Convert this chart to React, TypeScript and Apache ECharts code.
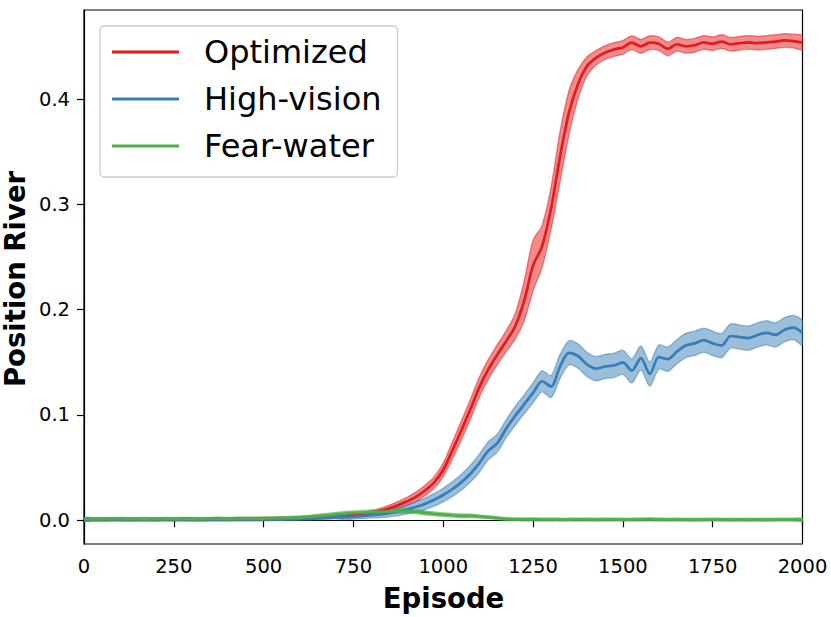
import React, { useEffect, useRef } from "react";
import * as echarts from "echarts";

const STEP = 25;
const episodes: number[] = Array.from({ length: 81 }, (_, i) => i * STEP);

const xTicks = [0, 250, 500, 750, 1000, 1250, 1500, 1750, 2000];
const yTicks = [0, 0.1, 0.2, 0.3, 0.4];

const seriesNames = ["Optimized", "High-vision", "Fear-water"];
const seriesColors = ["#e41a1c", "#377eb8", "#4daf4a"];
const bandColors = ["rgba(228,26,28,0.5)", "rgba(55,126,184,0.5)", "rgba(77,175,74,0.5)"];

const optimizedMean = [
  0.0008, 0.0010, 0.0007, 0.0009, 0.0011, 0.0008, 0.0009, 0.0010, 0.0008, 0.0010,
  0.0009, 0.0011, 0.0010, 0.0009, 0.0011, 0.0012, 0.0010, 0.0012, 0.0013, 0.0012,
  0.0014, 0.0015, 0.0017, 0.0018, 0.0020, 0.0022, 0.0025, 0.0030, 0.0035, 0.0040,
  0.0048, 0.0058, 0.0072, 0.0090, 0.0115, 0.0145, 0.0180, 0.0225, 0.0285, 0.0360,
  0.0480, 0.0660, 0.0850, 0.1050, 0.1260, 0.1430, 0.1570, 0.1700, 0.1840, 0.2080,
  0.2420, 0.2600, 0.2960, 0.3450, 0.3870, 0.4140, 0.4310, 0.4390, 0.4440, 0.4470,
  0.4490, 0.4535, 0.4500, 0.4535, 0.4525, 0.4475, 0.4520, 0.4500, 0.4510, 0.4537,
  0.4525, 0.4545, 0.4520, 0.4530, 0.4537, 0.4530, 0.4537, 0.4545, 0.4556, 0.4550,
  0.4537,
];
const optimizedSpread = [
  0.0015, 0.0015, 0.0015, 0.0015, 0.0015, 0.0015, 0.0015, 0.0015, 0.0015, 0.0015,
  0.0015, 0.0015, 0.0015, 0.0015, 0.0015, 0.0015, 0.0015, 0.0015, 0.0015, 0.0015,
  0.0015, 0.0015, 0.0015, 0.0015, 0.0015, 0.0015, 0.0015, 0.0015, 0.0015, 0.0020,
  0.0020, 0.0020, 0.0020, 0.0025, 0.0030, 0.0035, 0.0040, 0.0045, 0.0050, 0.0055,
  0.0065, 0.0080, 0.0090, 0.0095, 0.0095, 0.0095, 0.0095, 0.0100, 0.0120, 0.0190,
  0.0240, 0.0200, 0.0200, 0.0240, 0.0210, 0.0140, 0.0090, 0.0070, 0.0065, 0.0065,
  0.0065, 0.0065, 0.0065, 0.0065, 0.0065, 0.0065, 0.0065, 0.0065, 0.0065, 0.0065,
  0.0065, 0.0065, 0.0065, 0.0065, 0.0065, 0.0065, 0.0065, 0.0065, 0.0065, 0.0065,
  0.0065,
];

const highVisionMean = [
  0.0008, 0.0007, 0.0009, 0.0008, 0.0007, 0.0009, 0.0008, 0.0008, 0.0007, 0.0009,
  0.0008, 0.0009, 0.0008, 0.0007, 0.0009, 0.0008, 0.0009, 0.0010, 0.0009, 0.0010,
  0.0010, 0.0011, 0.0012, 0.0013, 0.0015, 0.0017, 0.0020, 0.0024, 0.0028, 0.0032,
  0.0036, 0.0042, 0.0048, 0.0055, 0.0068, 0.0085, 0.0105, 0.0128, 0.0158, 0.0195,
  0.0240, 0.0295, 0.0360, 0.0440, 0.0540, 0.0660, 0.0730, 0.0870, 0.0990, 0.1100,
  0.1210, 0.1320, 0.1270, 0.1460, 0.1590, 0.1560, 0.1480, 0.1440, 0.1460, 0.1470,
  0.1500, 0.1420, 0.1540, 0.1390, 0.1550, 0.1530, 0.1600, 0.1660, 0.1680, 0.1710,
  0.1680, 0.1660, 0.1750, 0.1740, 0.1730, 0.1760, 0.1780, 0.1760, 0.1810, 0.1830,
  0.1780,
];
const highVisionSpread = [
  0.0015, 0.0015, 0.0015, 0.0015, 0.0015, 0.0015, 0.0015, 0.0015, 0.0015, 0.0015,
  0.0015, 0.0015, 0.0015, 0.0015, 0.0015, 0.0015, 0.0015, 0.0015, 0.0015, 0.0015,
  0.0015, 0.0015, 0.0015, 0.0015, 0.0015, 0.0015, 0.0015, 0.0015, 0.0015, 0.0025,
  0.0025, 0.0025, 0.0025, 0.0030, 0.0035, 0.0040, 0.0045, 0.0050, 0.0055, 0.0060,
  0.0065, 0.0070, 0.0075, 0.0080, 0.0085, 0.0085, 0.0085, 0.0085, 0.0090, 0.0090,
  0.0095, 0.0100, 0.0105, 0.0115, 0.0115, 0.0115, 0.0115, 0.0115, 0.0115, 0.0115,
  0.0115, 0.0115, 0.0115, 0.0115, 0.0115, 0.0115, 0.0115, 0.0115, 0.0115, 0.0115,
  0.0115, 0.0115, 0.0115, 0.0115, 0.0115, 0.0115, 0.0115, 0.0115, 0.0115, 0.0115,
  0.0115,
];

const fearWaterMean = [
  0.0010, 0.0012, 0.0009, 0.0011, 0.0013, 0.0010, 0.0011, 0.0012, 0.0010, 0.0012,
  0.0011, 0.0013, 0.0012, 0.0011, 0.0013, 0.0014, 0.0012, 0.0014, 0.0015, 0.0014,
  0.0016, 0.0018, 0.0020, 0.0022, 0.0026, 0.0032, 0.0040, 0.0048, 0.0056, 0.0064,
  0.0070, 0.0074, 0.0078, 0.0081, 0.0084, 0.0087, 0.0088, 0.0082, 0.0070, 0.0062,
  0.0054, 0.0048, 0.0042, 0.0043, 0.0036, 0.0030, 0.0022, 0.0012, 0.0009, 0.0008,
  0.0009, 0.0007, 0.0008, 0.0006, 0.0007, 0.0008, 0.0007, 0.0006, 0.0007, 0.0008,
  0.0006, 0.0007, 0.0008, 0.0009, 0.0007, 0.0006, 0.0007, 0.0006, 0.0005, 0.0006,
  0.0007, 0.0006, 0.0005, 0.0006, 0.0005, 0.0006, 0.0005, 0.0006, 0.0007, 0.0006,
  0.0005,
];
const fearWaterSpread = [
  0.0015, 0.0015, 0.0015, 0.0015, 0.0015, 0.0015, 0.0015, 0.0015, 0.0015, 0.0015,
  0.0015, 0.0015, 0.0015, 0.0015, 0.0015, 0.0015, 0.0015, 0.0015, 0.0015, 0.0015,
  0.0015, 0.0015, 0.0015, 0.0015, 0.0015, 0.0015, 0.0018, 0.0018, 0.0020, 0.0020,
  0.0020, 0.0020, 0.0020, 0.0020, 0.0020, 0.0020, 0.0020, 0.0020, 0.0020, 0.0018,
  0.0018, 0.0018, 0.0018, 0.0018, 0.0015, 0.0015, 0.0015, 0.0015, 0.0015, 0.0015,
  0.0015, 0.0015, 0.0015, 0.0015, 0.0015, 0.0015, 0.0015, 0.0015, 0.0015, 0.0015,
  0.0015, 0.0015, 0.0015, 0.0015, 0.0015, 0.0015, 0.0015, 0.0015, 0.0015, 0.0015,
  0.0015, 0.0015, 0.0015, 0.0015, 0.0015, 0.0015, 0.0015, 0.0015, 0.0015, 0.0015,
  0.0015,
];

const means = [optimizedMean, highVisionMean, fearWaterMean];
const spreads = [optimizedSpread, highVisionSpread, fearWaterSpread];

const FONT = "DejaVu Sans";

export default function App() {
  const ref = useRef<HTMLDivElement>(null);
  useEffect(() => {
    if (!ref.current) return;
    const chart = echarts.init(ref.current, null, { renderer: "svg" });
    const series: any[] = [];
    means.forEach((mean, k) => {
      const spread = spreads[k];
      series.push({
        name: seriesNames[k] + " band",
        type: "custom",
        silent: true,
        clip: true,
        encode: { x: 0, y: [1, 2] },
        data: episodes.map((e, i) => [e, mean[i] - spread[i], mean[i] + spread[i]]),
        renderItem: (params: any, api: any) => {
          if (params.dataIndex !== 0) return null;
          const upper = episodes.map((e, i) => api.coord([e, mean[i] + spread[i]]));
          const lower = episodes
            .map((e, i) => api.coord([e, mean[i] - spread[i]]))
            .reverse();
          return {
            type: "polygon",
            shape: { points: upper.concat(lower), smooth: 0.3 },
            style: { fill: bandColors[k], stroke: bandColors[k], lineWidth: 1.3 },
          };
        },
      });
      series.push({
        name: seriesNames[k],
        type: "line",
        symbol: "none",
        smooth: 0.3,
        color: seriesColors[k],
        lineStyle: { width: 2.7, color: seriesColors[k] },
        itemStyle: { color: seriesColors[k] },
        data: episodes.map((e, i) => [e, mean[i]]),
      });
    });

    chart.setOption({
      animation: false,
      textStyle: { fontFamily: FONT },
      grid: {
        left: 84,
        top: 10,
        width: 718.5,
        height: 534,
        show: true,
        borderColor: "#000",
        borderWidth: 1.2,
        backgroundColor: "transparent",
      },
      legend: {
        data: seriesNames.map((n) => ({ name: n, icon: "rect" })),
        orient: "vertical",
        left: 100,
        top: 26,
        padding: [10, 16, 15, 12],
        itemGap: 15,
        itemWidth: 67,
        itemHeight: 3,
        backgroundColor: "#ffffff",
        borderColor: "#cccccc",
        borderWidth: 1.3,
        borderRadius: 4,
        selectedMode: false,
        textStyle: {
          fontFamily: FONT,
          fontSize: 32,
          lineHeight: 32,
          color: "#000",
          padding: [0, 0, 0, 20],
        },
      },
      xAxis: {
        type: "value",
        min: 0,
        max: 2000,
        interval: 250,
        axisLine: { show: true, lineStyle: { color: "#000", width: 1.2 } },
        axisTick: { show: true, length: 7, lineStyle: { color: "#000", width: 1.2 } },
        axisLabel: {
          color: "#000",
          fontSize: 19.5,
          fontFamily: FONT,
          margin: 12,
          formatter: (v: number) => (xTicks.includes(v) ? String(v) : ""),
        },
        splitLine: { show: false },
      },
      yAxis: {
        type: "value",
        min: -0.0225,
        max: 0.4845,
        axisLine: { show: true, lineStyle: { color: "#000", width: 1.2 } },
        axisTick: {
          show: true,
          length: 7,
          customValues: yTicks,
          lineStyle: { color: "#000", width: 1.2 },
        },
        axisLabel: {
          color: "#000",
          fontSize: 19.5,
          fontFamily: FONT,
          margin: 14,
          customValues: yTicks,
          formatter: (v: number) => v.toFixed(1),
        },
        splitLine: { show: false },
      },
      graphic: [
        {
          type: "text",
          x: 15,
          y: 279,
          rotation: Math.PI / 2,
          style: {
            text: "Position River",
            font: `bold 27.5px "${FONT}"`,
            fill: "#000",
            textAlign: "center",
            textVerticalAlign: "middle",
          },
        },
        {
          type: "text",
          x: 443.5,
          y: 598,
          style: {
            text: "Episode",
            font: `bold 27.5px "${FONT}"`,
            fill: "#000",
            textAlign: "center",
            textVerticalAlign: "middle",
          },
        },
      ],
      series,
    });
    return () => chart.dispose();
  }, []);
  return (
    <div
      ref={ref}
      style={{ position: "absolute", left: 0, top: 0, width: 831, height: 617 }}
    />
  );
}
